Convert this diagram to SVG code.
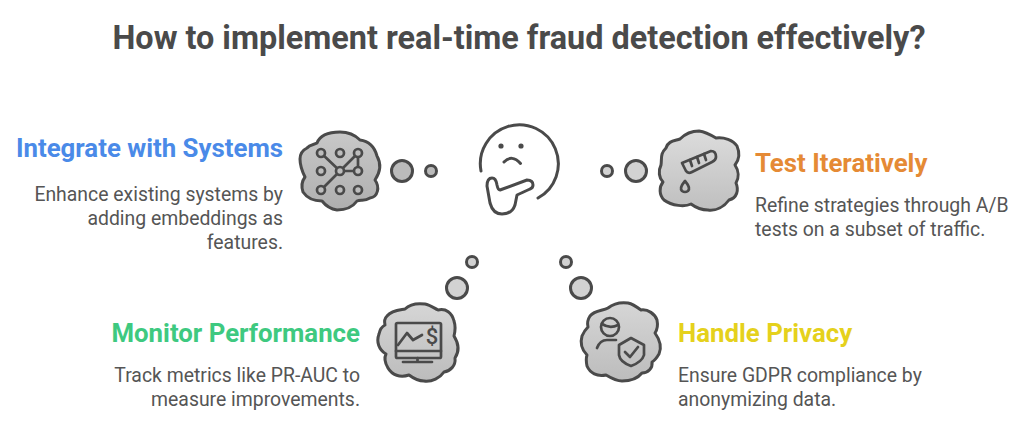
<svg xmlns="http://www.w3.org/2000/svg" width="1024" height="438" viewBox="0 0 1024 438">
<style>
text{font-family:Roboto,"Liberation Sans",sans-serif}
.t{font-size:32.4px;font-weight:700;fill:#4a4a4a;text-anchor:middle}
.h{font-size:25.8px;font-weight:700}
.b{font-size:19.4px;fill:#555555}
.r{text-anchor:end}
.s{stroke:#4a4a4a;stroke-width:3;stroke-linecap:round;stroke-linejoin:round}
.n{fill:none}
.i{stroke:#4a4a4a;stroke-width:2.7;fill:none;stroke-linecap:round;stroke-linejoin:round}
.d{stroke:#4a4a4a;stroke-width:3}
</style>
<defs>
<linearGradient id="g1" x1="0" y1="0" x2="0" y2="1"><stop offset="0" stop-color="#c8c8c8"/><stop offset="1" stop-color="#afafaf"/></linearGradient>
<linearGradient id="g2" x1="0" y1="0" x2="0" y2="1"><stop offset="0" stop-color="#dcdcdc"/><stop offset="1" stop-color="#bfbfbf"/></linearGradient>
<linearGradient id="g3" x1="0" y1="0" x2="0" y2="1"><stop offset="0" stop-color="#d6d6d6"/><stop offset="1" stop-color="#bcbcbc"/></linearGradient>
</defs>

<text class="t" x="519" y="49">How to implement real-time fraud detection effectively?</text>

<g id="connectors">
<circle class="d" cx="402" cy="171" r="10.5" fill="#bbbbbb"/>
<circle class="d" cx="431" cy="171" r="5.5" fill="#bbbbbb"/>
<circle class="d" cx="636" cy="171" r="10.5" fill="#d2d2d2"/>
<circle class="d" cx="607" cy="171" r="5.5" fill="#d2d2d2"/>
<circle class="d" cx="457" cy="288" r="10.5" fill="#d2d2d2"/>
<circle class="d" cx="472" cy="262" r="5.500" fill="#d2d2d2"/>
<circle class="d" cx="581" cy="288" r="10.5" fill="#d2d2d2"/>
<circle class="d" cx="566" cy="262" r="5.5" fill="#d2d2d2"/>
</g>

<g id="thinker">
<path class="s n" d="M481,171 A39,39 0 1 1 538,198"/>
<circle cx="501" cy="146" r="2.6" fill="#4a4a4a"/>
<circle cx="521" cy="146" r="2.6" fill="#4a4a4a"/>
<path class="s n" d="M504,162 Q512,154 520.5,163.5"/>
<path class="s n" d="M500,190 L527,180 Q533,180 533,185 Q533,188 530,189 L517,195 L515,205 Q512,214 502,214 Q493,214 490,203 L487,186 Q487,178 492,178 Q496,178 497,185 Q498,190 500,190 Z"/>
</g>

<g id="integrate">
<path class="s" fill="url(#g1)" d="M307,148 C310,144 314,145 317,143 C320,135 330,132 340,132 C348,132 355,135 360,140 C368,141 374,145 377,156 C381,163 381,171 375,180 C380,187 378,197 370,198 C364,202 361,199 357,201 C352,208 345,210 337,210 C330,209 326,206 322,201 C314,201 307,198 303,192 C301,186 302,181 305,177 C302,171 300,165 300,159 C300,154 303,150 307,148 Z"/>
<g class="i">
<path d="M340,171 L321,153 M340,171 L358,153 L358,171 L340,171 M340,171 L321,190"/>
<g fill="#bdbdbd"><circle cx="321" cy="153" r="4"/><circle cx="340" cy="153" r="4"/><circle cx="358" cy="153" r="4"/><circle cx="321" cy="171" r="4"/><circle cx="340" cy="171" r="4"/><circle cx="358" cy="171" r="4"/><circle cx="321" cy="190" r="4"/><circle cx="340" cy="190" r="4"/><circle cx="358" cy="190" r="4"/></g>
</g>
<text class="h r" x="283" y="157" fill="#4a8ae8">Integrate with Systems</text>
<text class="b r" x="283" y="201">Enhance existing systems by</text>
<text class="b r" x="283" y="225">adding embeddings as</text>
<text class="b r" x="283" y="249">features.</text>
</g>

<g id="test">
<path class="s" fill="url(#g2)" d="M666,148 C668,141 674,141 680,139 C685,134 692,131 699,131 C706,132 711,135 716,138 C724,137 733,140 737,146 C740,153 739,160 735,165 C739,171 739,178 736,183 C739,190 737,198 729,200 C724,207 716,211 708,210 C701,210 695,207 691,204 C685,207 672,206 664,200 C659,195 659,187 663,182 C659,178 658,171 661,165 C662,158 660,154 666,148 Z"/>
<g class="i">
<path d="M682,163 L711,151 Q716,151 716,157 Q716,160 712,162 L692,172 Q688,174 686,171 Z"/>
<path d="M690,160 L692,166 M697,157 L699,163 M704,154 L706,160"/>
<path d="M685,181 Q679,188 682,191 Q685,193 688,191 Q691,188 685,181 Z"/>
</g>
<text class="h" x="755" y="172" fill="#e58a35">Test Iteratively</text>
<text class="b" x="755" y="212">Refine strategies through A/B</text>
<text class="b" x="755" y="236">tests on a subset of traffic.</text>
</g>

<g id="monitor">
<path class="s" fill="url(#g3)" d="M387,316 C392,310 400,310 405,309 C410,304 417,303 425,304 C430,305 434,308 438,310 C446,308 452,313 454,321 C456,327 455,332 454,336 C459,344 459,352 455,358 C456,366 450,371 444,372 C440,378 432,382 424,381 C418,381 413,378 409,375 C400,378 392,375 388,368 C385,363 384,358 386,354 C379,350 376,342 379,334 C380,329 383,326 385,325 C384,321 385,318 387,316 Z"/>
<g class="i">
<rect x="396" y="323" width="45" height="35" rx="1.5"/>
<path d="M396,351 H441 M417.500,358 V362 M403,362 H432"/>
<path d="M398,345 L407,333 L413,340 L422,335"/>
</g>
<text x="432" y="344" font-size="22" font-weight="500" fill="#4a4a4a" text-anchor="middle">$</text>
<text class="h r" x="360" y="342" fill="#3ec980">Monitor Performance</text>
<text class="b r" x="360" y="382">Track metrics like PR-AUC to</text>
<text class="b r" x="360" y="406">measure improvements.</text>
</g>

<g id="privacy">
<path class="s" fill="url(#g3)" d="M590,316 C595,310 603,311 608,308 C613,304 620,302 628,303 C633,304 637,307 641,310 C648,309 655,314 657,320 C658,325 657,330 655,333 C660,340 662,347 659,354 C656,359 654,361 652,362 C653,368 648,373 642,373 C638,378 630,381 622,381 C616,381 611,378 606,375 C597,377 590,373 587,366 C586,361 586,358 587,355 C582,350 580,343 582,336 C584,331 586,329 588,327 C587,323 588,319 590,316 Z"/>
<g class="i">
<circle cx="610" cy="327" r="9"/>
<path d="M602,324 Q610,329 618,325"/>
<path d="M597,348 Q600,340 607,340 H616"/>
<path d="M631,338 L619,345 V355 Q620,362 631,366 Q642,362 644,355 V345 Z"/>
<path d="M625,352 L630,357 L638,347"/>
</g>
<text class="h" x="678" y="342" fill="#e5d11c">Handle Privacy</text>
<text class="b" x="678" y="382">Ensure GDPR compliance by</text>
<text class="b" x="678" y="406">anonymizing data.</text>
</g>
</svg>
